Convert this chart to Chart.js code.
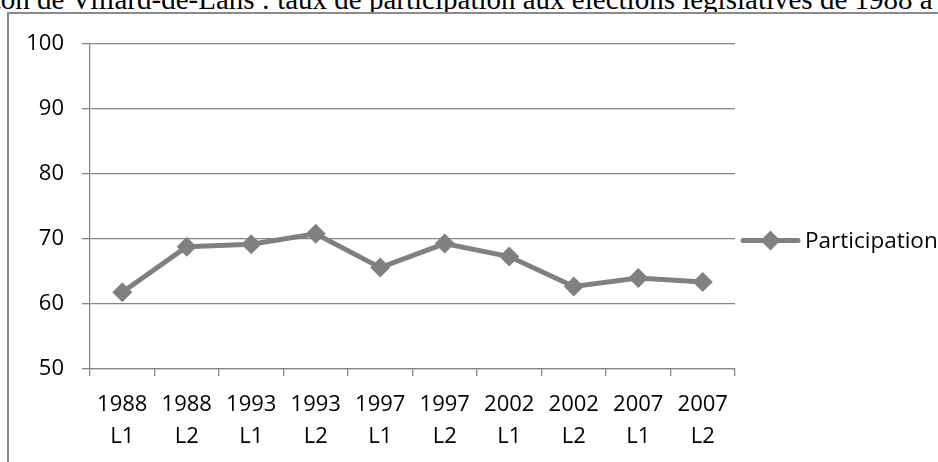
<!DOCTYPE html>
<html>
<head>
<meta charset="utf-8">
<script src="https://cdn.jsdelivr.net/npm/chart.js@4"></script>
<style>
  html, body { margin: 0; padding: 0; background: #fff; overflow: hidden; }
  #wrap { position: relative; width: 938px; height: 462px; overflow: hidden; }
  #title {
    position: absolute; left: -54px; top: -15px; white-space: nowrap;
    font: 29px/29px "Liberation Serif", "Times New Roman", serif; color: #000;
  }
  #frame {
    position: absolute; left: 7px; top: 12px; width: 940px; height: 460px;
    border-left: 2px solid #8a8a8a; border-top: 2px solid #8a8a8a; background: #fff;
  }
  #chart { position: absolute; left: 0; top: 0; }
</style>
</head>
<body>
<div id="wrap">
  <div id="title">Canton de Villard-de-Lans : taux de participation aux élections législatives de 1988 à 2007</div>
  <div id="frame"></div>
  <canvas id="chart" width="938" height="462"></canvas>
</div>
<script>
// tours de scrutin (année, tour)
const years = ["1988","1988","1993","1993","1997","1997","2002","2002","2007","2007"];
const rounds = ["L1","L2","L1","L2","L1","L2","L1","L2","L1","L2"];
// taux de participation (%)
const participation = [61.8, 68.8, 69.2, 70.8, 65.6, 69.3, 67.3, 62.7, 64.0, 63.4];
const seriesName = "Participation";
const yTicks = [50, 60, 70, 80, 90, 100];

const GREY = "#808080";
const AXIS = "#868686";
const FONT = { family: "'Open Sans', sans-serif", size: 22, lineHeight: 1.48 };

// legend drawn like Excel: line + diamond, then label
const excelLegend = {
  id: "excelLegend",
  afterDraw(chart) {
    const { ctx, chartArea } = chart;
    const y = 240.5;
    const x0 = chartArea.right + 8;
    ctx.save();
    ctx.strokeStyle = GREY;
    ctx.lineWidth = 5;
    ctx.lineCap = "round";
    ctx.beginPath();
    ctx.moveTo(x0, y);
    ctx.lineTo(x0 + 55, y);
    ctx.stroke();
    ctx.fillStyle = GREY;
    ctx.beginPath();
    const cx = x0 + 27.5;
    ctx.moveTo(cx, y - 10);
    ctx.lineTo(cx + 10, y);
    ctx.lineTo(cx, y + 10);
    ctx.lineTo(cx - 10, y);
    ctx.closePath();
    ctx.fill();
    ctx.fillStyle = "#000";
    ctx.font = `22.5px ${FONT.family}`;
    ctx.textBaseline = "middle";
    ctx.textAlign = "left";
    ctx.fillText(seriesName, x0 + 62, y + 1);
    ctx.restore();
  },
};

new Chart(document.getElementById("chart"), {
  type: "line",
  data: {
    labels: years.map((y, i) => [y, rounds[i]]),
    datasets: [{
      label: seriesName,
      data: participation,
      borderColor: GREY,
      backgroundColor: GREY,
      borderWidth: 5,
      tension: 0,
      pointStyle: "rectRot",
      pointRadius: 10,
      pointBorderWidth: 0,
      pointBackgroundColor: GREY,
    }],
  },
  options: {
    responsive: false,
    animation: false,
    layout: { padding: { top: 44, right: 203, bottom: 0, left: 0 } },
    plugins: { legend: { display: false }, tooltip: { enabled: false } },
    scales: {
      x: {
        offset: true,
        afterFit: (s) => { s.height = 93; },
        grid: { drawOnChartArea: false, color: AXIS, lineWidth: 1.3, tickLength: 7, offset: true },
        border: { color: AXIS, width: 1.3 },
        ticks: { color: "#000", font: FONT, padding: 12, maxRotation: 0, autoSkip: false },
      },
      y: {
        min: 50,
        max: 100,
        afterFit: (s) => { s.width = 90; },
        afterBuildTicks: (s) => { s.ticks = yTicks.map((v) => ({ value: v })); },
        grid: { color: AXIS, lineWidth: 1.3, tickLength: 8 },
        border: { color: AXIS, width: 1.3 },
        ticks: { color: "#000", font: FONT, padding: 18 },
      },
    },
  },
  plugins: [excelLegend],
});
</script>
</body>
</html>
